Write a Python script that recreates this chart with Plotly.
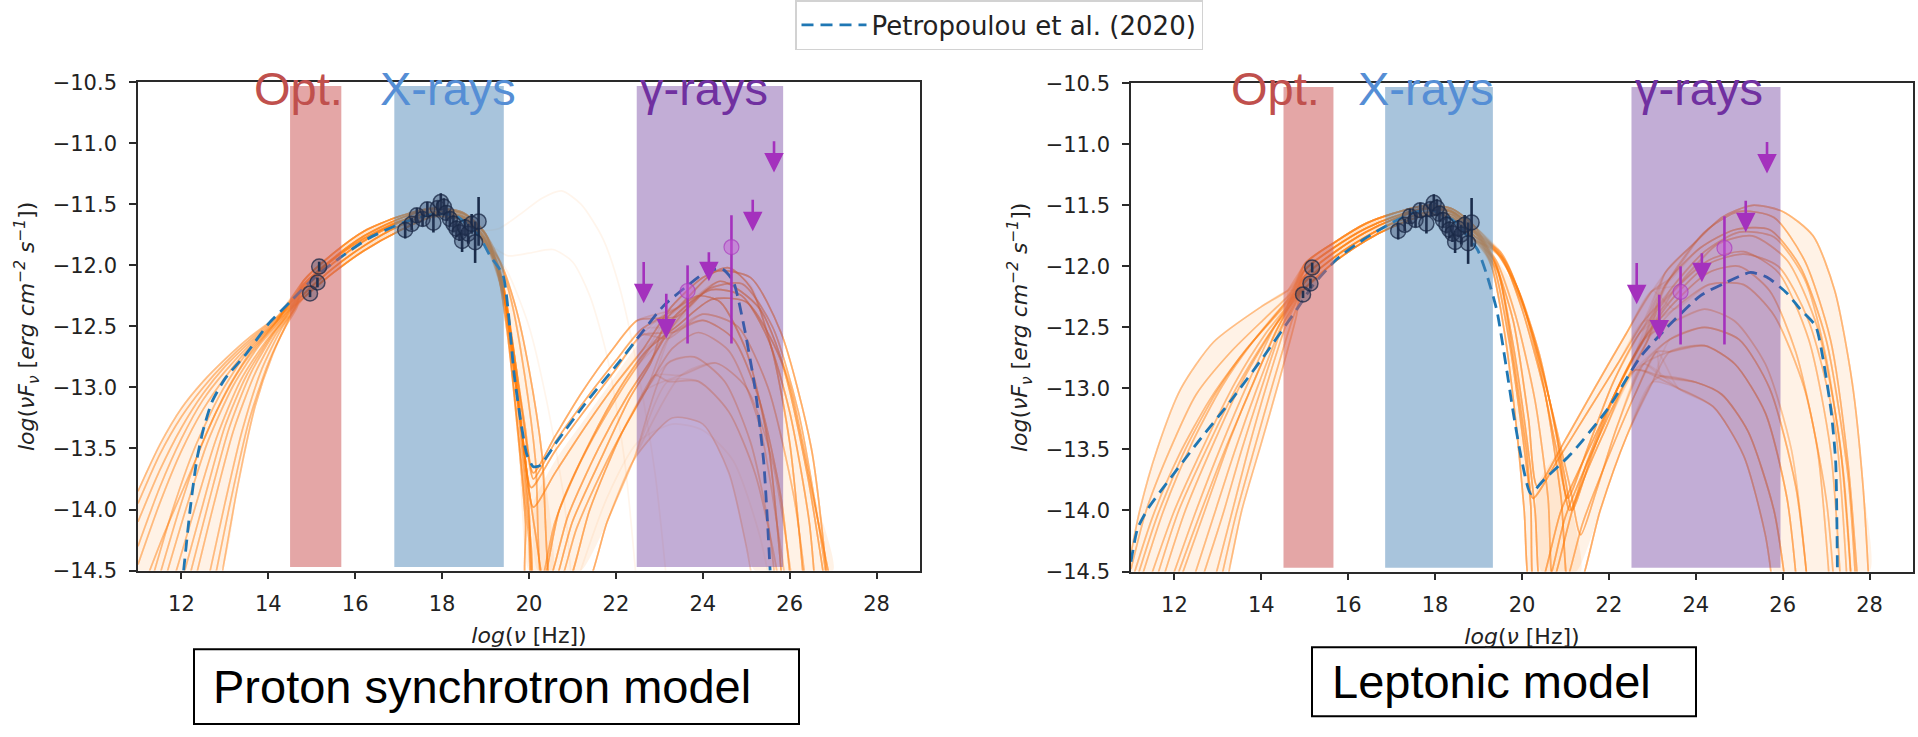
import plotly.graph_objects as go

# ---------------------------------------------------------------- data
x_ticks = [12, 14, 16, 18, 20, 22, 24, 26, 28]
y_ticks = [-14.5, -14.0, -13.5, -13.0, -12.5, -12.0, -11.5, -11.0, -10.5]

band_names = ["Opt.", "X-rays", "γ-rays"]
proton_band_lo = [14.50, 16.90, 22.48]
proton_band_hi = [15.68, 19.42, 25.85]
lepton_band_lo = [14.51, 16.85, 22.52]
lepton_band_hi = [15.66, 19.33, 25.95]
band_y_lo = -14.47
band_y_hi = -10.53

# Petropoulou et al. (2020) model (dashed)
petro_proton_x = [12.05, 12.2, 12.35, 12.5, 12.7, 13.0, 13.5, 14.0, 14.5, 15.0, 15.6, 16.3, 17.1, 17.8,
                  18.3, 18.85, 19.1, 19.4, 19.66, 19.82, 19.95, 20.1, 20.25, 20.65, 21.3, 22.1, 22.6,
                  23.1, 23.6, 24.1, 24.45, 24.7, 24.95, 25.2, 25.4, 25.55]
petro_proton_y = [-14.5, -14.0, -13.6, -13.35, -13.12, -12.93, -12.72, -12.48, -12.3, -12.12, -11.95,
                  -11.78, -11.65, -11.58, -11.59, -11.76, -11.92, -12.08, -12.9, -13.3, -13.55, -13.65,
                  -13.64, -13.44, -13.13, -12.78, -12.55, -12.33, -12.18, -12.05, -12.03, -12.13, -12.5,
                  -13.0, -13.6, -14.5]
petro_lepton_x = [11.0, 11.15, 11.4, 11.77, 12.54, 13.3, 14.07, 14.84, 15.2, 15.74, 16.35, 16.97, 17.51,
                  17.9, 18.4, 18.97, 19.19, 19.42, 19.64, 19.8, 20.0, 20.2, 20.5, 21.12, 21.97, 22.73,
                  23.34, 24.11, 24.65, 25.26, 25.64, 26.1, 26.4, 26.76, 26.95, 27.12, 27.22, 27.26]
petro_lepton_y = [-14.42, -14.15, -13.98, -13.8, -13.44, -13.1, -12.73, -12.34, -12.15, -11.94, -11.78,
                  -11.65, -11.56, -11.54, -11.62, -11.86, -12.07, -12.36, -12.83, -13.2, -13.6, -13.86,
                  -13.75, -13.54, -13.17, -12.74, -12.5, -12.24, -12.14, -12.05, -12.09, -12.22, -12.35,
                  -12.49, -12.8, -13.2, -13.6, -14.5]

# observed data (identical in both panels)
opt_x = [14.96, 15.13, 15.17]
opt_y = [-12.23, -12.14, -12.01]
opt_err = [0.03, 0.04, 0.04]

xray_x = [17.15, 17.30, 17.42, 17.55, 17.66, 17.80, 17.90, 17.97, 18.04, 18.10,
          18.18, 18.26, 18.33, 18.40, 18.46, 18.53, 18.60, 18.68, 18.76, 18.84]
xray_y = [-11.71, -11.66, -11.59, -11.62, -11.54, -11.65, -11.53, -11.48, -11.52, -11.57,
          -11.62, -11.66, -11.70, -11.73, -11.80, -11.69, -11.74, -11.66, -11.81, -11.64]
xray_err = [0.07, 0.05, 0.06, 0.06, 0.06, 0.08, 0.06, 0.07, 0.07, 0.06,
            0.06, 0.07, 0.07, 0.07, 0.09, 0.07, 0.08, 0.08, 0.17, 0.20]

gamma_x = [23.65, 24.66]
gamma_y = [-12.21, -11.85]
gamma_err_plus = [0.21, 0.26]
gamma_err_minus = [0.43, 0.79]

ul_x = [22.64, 23.16, 24.14, 25.15, 25.64]
ul_y = [-11.96, -12.22, -11.88, -11.45, -10.97]
ul_len = [0.35, 0.38, 0.25, 0.27, 0.27]

# ---- spread of the model-curve ensemble (outlines)
proton_lowfan_x = [11.0, 11.5, 12.0, 12.5, 13.0, 13.6, 14.2, 14.5, 14.1, 13.7, 13.3, 12.9, 11.0]
proton_lowfan_y = [-13.85, -13.47, -13.17, -12.95, -12.77, -12.58, -12.42, -12.42, -12.73, -13.15, -13.8, -14.5, -14.5]
proton_humpband_x = [14.2, 14.8, 15.5, 16.2, 17.0, 17.8, 18.5, 19.0, 19.0, 18.5, 17.8, 17.0, 16.2, 15.5, 14.8, 14.2]
proton_humpband_y = [-12.42, -12.13, -11.9, -11.72, -11.6, -11.53, -11.57, -11.74,
                     -11.83, -11.63, -11.6, -11.72, -11.88, -12.06, -12.27, -12.46]
proton_drop_x = [19.2, 19.7, 20.0, 20.3, 20.55, 20.0, 19.75, 19.5, 19.25]
proton_drop_y = [-11.85, -12.35, -12.85, -13.55, -14.5, -14.5, -13.4, -12.55, -12.0]
proton_gcloud_x = [20.1, 20.6, 21.3, 22.0, 22.6, 23.3, 24.0, 24.6, 25.1, 25.6, 26.0, 26.5, 27.0,
                   25.2, 25.0, 24.6, 24.0, 23.3, 22.4, 21.8, 21.2, 20.2]
proton_gcloud_y = [-13.95, -13.6, -13.25, -12.9, -12.6, -12.33, -12.1, -12.02, -12.15, -12.55, -13.0, -13.8, -14.5,
                   -14.5, -14.3, -13.7, -13.3, -13.25, -13.6, -14.1, -14.5, -14.5]
lepton_lowfan_x = [11.0, 11.2, 11.6, 12.15, 12.9, 14.0, 14.6, 14.85, 14.4, 14.0, 13.55, 13.2, 11.0]
lepton_lowfan_y = [-14.35, -14.0, -13.5, -13.0, -12.62, -12.33, -12.2, -12.3, -12.95, -13.45, -14.0, -14.5, -14.5]
lepton_humpband_x = [14.6, 15.0, 15.7, 16.4, 17.0, 17.8, 18.4, 18.9, 18.9, 18.4, 17.8, 17.0, 16.4, 15.7, 15.0, 14.6]
lepton_humpband_y = [-12.2, -11.98, -11.8, -11.65, -11.57, -11.5, -11.53, -11.67,
                     -11.78, -11.6, -11.58, -11.68, -11.79, -11.96, -12.18, -12.32]
lepton_drop_x = [19.2, 19.9, 20.5, 21.0, 21.35, 20.15, 20.05, 19.85, 19.6, 19.3]
lepton_drop_y = [-11.85, -12.2, -12.95, -13.75, -14.5, -14.5, -14.0, -13.25, -12.55, -12.0]
lepton_gcloud_x = [20.35, 21.0, 21.7, 22.4, 23.0, 23.4, 24.2, 25.0, 25.3, 26.0, 26.7, 27.2, 27.6, 27.85, 28.0,
                   25.8, 25.6, 25.1, 24.4, 23.6, 23.0, 22.4, 21.8, 21.25, 20.45]
lepton_gcloud_y = [-13.8, -13.42, -12.98, -12.55, -12.2, -12.0, -11.72, -11.55, -11.5, -11.55, -11.75, -12.2, -12.95,
                   -13.8, -14.5, -14.5, -14.2, -13.55, -13.15, -13.0, -12.95, -13.4, -14.0, -14.5, -14.5]

# ---- fitted model curves (proton synchrotron), read as segments
proton_low = [
    [(11.0, -13.85), (11.5, -13.47), (12.0, -13.17), (12.5, -12.95), (13.0, -12.77), (13.6, -12.58), (14.2, -12.42)],
    [(11.0, -14.1), (11.5, -13.68), (12.0, -13.33), (12.5, -13.05), (13.0, -12.83), (13.6, -12.62), (14.2, -12.44)],
    [(11.0, -14.45), (11.5, -13.95), (12.0, -13.52), (12.5, -13.18), (13.0, -12.92), (13.6, -12.66), (14.2, -12.46)],
    [(11.3, -14.6), (11.8, -14.0), (12.3, -13.5), (12.9, -13.05), (13.5, -12.72), (14.2, -12.46)],
    [(11.6, -14.6), (12.1, -14.0), (12.6, -13.45), (13.2, -12.98), (13.8, -12.65), (14.3, -12.45)],
    [(12.0, -14.6), (12.5, -13.95), (13.0, -13.32), (13.5, -12.9), (14.1, -12.56), (14.5, -12.38)],
    [(12.3, -14.6), (12.75, -13.95), (13.2, -13.35), (13.7, -12.88), (14.2, -12.55), (14.6, -12.36)],
    [(12.6, -14.6), (13.0, -13.95), (13.4, -13.35), (13.85, -12.85), (14.3, -12.52), (14.6, -12.36)],
    [(12.9, -14.6), (13.3, -13.8), (13.7, -13.15), (14.1, -12.73), (14.5, -12.42)],
    [(11.0, -14.75), (11.6, -14.2), (12.2, -13.7), (12.8, -13.2), (13.4, -12.82), (14.1, -12.5)],
    [(11.0, -13.95), (11.5, -13.55), (12.0, -13.24), (12.5, -13.0), (13.0, -12.8), (13.6, -12.6), (14.2, -12.43)],
    [(11.0, -14.3), (11.5, -13.82), (12.0, -13.42), (12.5, -13.1), (13.0, -12.87), (13.6, -12.64), (14.2, -12.45)],
    [(11.45, -14.6), (11.95, -14.0), (12.45, -13.48), (13.05, -13.02), (13.65, -12.68), (14.25, -12.46)],
    [(11.8, -14.6), (12.3, -14.0), (12.8, -13.42), (13.35, -12.95), (13.95, -12.62), (14.4, -12.42)],
    [(12.15, -14.6), (12.62, -13.95), (13.1, -13.33), (13.6, -12.88), (14.15, -12.55), (14.55, -12.37)],
    [(12.75, -14.6), (13.15, -13.9), (13.55, -13.28), (14.0, -12.8), (14.4, -12.5), (14.65, -12.35)],
]
proton_hump = [
    [(14.8, -12.2), (15.5, -11.98), (16.2, -11.8), (17.0, -11.65), (17.8, -11.56), (18.5, -11.6), (19.0, -11.78)],
    [(14.8, -12.16), (15.5, -11.94), (16.2, -11.76), (17.0, -11.62), (17.8, -11.54), (18.5, -11.58), (19.0, -11.75)],
    [(14.8, -12.24), (15.5, -12.02), (16.2, -11.84), (17.0, -11.68), (17.8, -11.58), (18.5, -11.62), (19.0, -11.81)],
    [(14.8, -12.13), (15.5, -11.9), (16.2, -11.72), (17.0, -11.6), (17.8, -11.53), (18.5, -11.57), (19.0, -11.74)],
    [(14.8, -12.27), (15.5, -12.06), (16.2, -11.88), (17.0, -11.72), (17.8, -11.6), (18.5, -11.63), (19.0, -11.83)],
    [(14.8, -12.18), (15.5, -11.95), (16.2, -11.78), (17.0, -11.64), (17.8, -11.57), (18.5, -11.61), (19.0, -11.8)],
]
proton_dip = [
    [(19.35, -12.1), (19.6, -12.7), (19.85, -13.4), (20.05, -13.82), (20.6, -13.52), (21.3, -13.18), (22.0, -12.85), (22.6, -12.57)],
    [(19.4, -12.2), (19.65, -12.85), (19.9, -13.55), (20.1, -13.98), (20.6, -13.7), (21.3, -13.32), (22.0, -12.97), (22.6, -12.7)],
    [(19.3, -12.02), (19.55, -12.5), (19.8, -13.25), (20.0, -14.0), (20.12, -14.7), (20.25, -14.7), (20.7, -14.0),
     (21.4, -13.45), (22.1, -13.0), (22.7, -12.7)],
    [(19.35, -11.98), (19.7, -12.35), (20.0, -12.85), (20.3, -13.55), (20.55, -14.7), (20.8, -14.7), (21.4, -14.0),
     (22.1, -13.4), (22.7, -13.02)],
    [(19.25, -12.0), (19.5, -12.55), (19.75, -13.4), (19.92, -14.1), (20.0, -14.7), (21.2, -14.7), (21.8, -14.1), (22.4, -13.6)],
    [(19.4, -12.15), (19.7, -12.9), (19.95, -13.7), (20.15, -14.2), (20.4, -14.7), (20.5, -14.7), (21.0, -14.1),
     (21.7, -13.55), (22.3, -13.1), (22.8, -12.8)],
    [(19.3, -12.05), (19.6, -12.6), (19.9, -13.3), (20.1, -13.7), (20.6, -13.4), (21.2, -13.05), (21.9, -12.7), (22.5, -12.45)],
    [(19.3, -12.0), (19.55, -12.45), (19.8, -13.1), (20.0, -13.6), (20.1, -13.75), (20.6, -13.45), (21.3, -13.1),
     (22.0, -12.78), (22.6, -12.52)],
    [(19.45, -12.3), (19.7, -13.0), (19.92, -13.8), (20.05, -14.3), (20.15, -14.7), (20.35, -14.7), (20.9, -14.05),
     (21.6, -13.5), (22.3, -13.05), (22.8, -12.78)],
    [(19.3, -11.95), (19.6, -12.3), (19.9, -12.9), (20.15, -13.6), (20.35, -14.7), (20.6, -14.7), (21.1, -14.15),
     (21.8, -13.6), (22.4, -13.2), (22.9, -12.9)],
    [(19.4, -12.25), (19.65, -13.0), (19.85, -13.7), (20.0, -14.25), (20.08, -14.7), (20.2, -14.7), (20.6, -14.1),
     (21.2, -13.6), (21.9, -13.15), (22.5, -12.82)],
]
proton_gamma = [
    [(23.3, -12.33), (24.0, -12.1), (24.6, -12.02), (25.1, -12.18), (25.6, -12.7), (26.0, -13.45), (26.35, -14.7)],
    [(23.2, -12.42), (23.9, -12.25), (24.4, -12.3), (25.0, -12.7), (25.5, -13.45), (25.85, -14.7)],
    [(23.4, -12.5), (24.2, -12.28), (25.0, -12.3), (25.8, -12.78), (26.4, -13.7), (26.85, -14.7)],
    [(23.3, -12.68), (23.9, -12.55), (24.6, -12.7), (25.3, -13.3), (25.7, -14.1), (25.95, -14.7)],
    [(23.4, -12.42), (24.4, -12.13), (25.3, -12.35), (26.0, -12.98), (26.6, -14.0), (27.0, -14.7)],
    [(23.3, -13.25), (24.0, -13.3), (24.6, -13.7), (25.0, -14.3), (25.2, -14.7)],
    [(23.5, -12.9), (24.3, -12.8), (25.0, -13.0), (25.6, -13.6), (26.1, -14.7)],
    [(23.2, -12.6), (24.0, -12.4), (24.8, -12.5), (25.5, -13.0), (26.1, -13.9), (26.4, -14.7)],
    [(23.4, -12.35), (24.3, -12.05), (25.1, -12.1), (25.8, -12.55), (26.5, -13.5), (26.9, -14.7)],
    [(23.2, -12.8), (23.8, -12.75), (24.5, -12.95), (25.1, -13.45), (25.5, -14.1), (25.7, -14.7)],
    [(23.3, -12.5), (24.1, -12.2), (24.9, -12.15), (25.6, -12.5), (26.2, -13.2), (26.7, -14.2), (26.9, -14.7)],
    [(23.3, -12.55), (24.0, -12.45), (24.7, -12.6), (25.3, -13.1), (25.8, -13.9), (26.05, -14.7)],
    [(23.4, -12.4), (24.2, -12.2), (24.9, -12.25), (25.5, -12.6), (26.0, -13.2), (26.45, -14.1), (26.6, -14.7)],
    [(23.2, -12.95), (23.9, -12.95), (24.6, -13.2), (25.2, -13.7), (25.6, -14.3), (25.8, -14.7)],
]
# (low, hump, dip, gamma) segment choice for every drawn proton model curve
proton_recipes = [
    (0, 0, 0, 0), (1, 1, 1, 2), (2, 2, 2, 1), (3, 3, 3, 3), (4, 4, 4, 5), (5, 5, 5, 4), (6, 0, 6, 8), (7, 1, 7, 10),
    (8, 2, 8, 12), (9, 3, 9, 13), (10, 4, 10, 11), (11, 5, 0, 7), (12, 0, 1, 0), (13, 1, 2, 2), (14, 2, 3, 6),
    (15, 3, 4, 9), (0, 4, 5, 1), (1, 5, 6, 4), (2, 0, 7, 8), (3, 1, 8, 10), (4, 2, 9, 3), (5, 3, 10, 12),
    (6, 4, 0, 11), (7, 5, 1, 0), (8, 0, 2, 2), (9, 1, 3, 7), (10, 2, 4, 13), (11, 3, 5, 1), (12, 4, 6, 4),
    (13, 5, 7, 8), (14, 0, 8, 10), (15, 1, 9, 6), (0, 2, 10, 12), (1, 3, 0, 11), (2, 4, 1, 0), (3, 5, 2, 2),
    (4, 0, 3, 9), (5, 1, 4, 5), (6, 2, 5, 1), (7, 3, 6, 4), (8, 4, 7, 8), (9, 5, 8, 10), (10, 0, 9, 11),
    (11, 1, 10, 12), (12, 2, 0, 7), (13, 3, 1, 0), (14, 4, 2, 2), (15, 5, 3, 3), (0, 1, 4, 6), (1, 2, 5, 1),
    (2, 3, 6, 4), (3, 4, 7, 8), (4, 5, 8, 10), (5, 0, 9, 13), (6, 1, 10, 12), (7, 2, 0, 11), (8, 3, 1, 0),
    (9, 4, 2, 2), (10, 5, 3, 7), (11, 0, 4, 9), (12, 1, 5, 4), (13, 2, 6, 8), (14, 3, 7, 1), (15, 4, 8, 12),
]
proton_faint = [
    [(18.8, -11.72), (19.3, -11.7), (19.8, -11.58), (20.3, -11.45), (20.75, -11.39), (21.2, -11.5),
     (21.7, -11.78), (22.1, -12.2), (22.5, -12.85), (22.9, -13.7), (23.2, -14.7)],
    [(19.0, -11.8), (19.5, -11.92), (20.0, -11.9), (20.55, -11.87), (21.0, -11.97), (21.4, -12.25),
     (21.8, -12.75), (22.2, -13.6), (22.5, -14.7)],
    [(19.0, -11.8), (19.5, -12.05), (20.0, -12.5), (20.4, -13.1), (20.8, -13.9), (21.0, -14.7)],
    [(21.0, -14.7), (21.8, -13.9), (22.5, -13.45), (23.3, -13.3), (24.0, -13.35), (24.7, -13.6),
     (25.3, -14.2), (25.6, -14.7)],
]

# ---- fitted model curves (leptonic), read as segments
lepton_low = [
    [(11.0, -14.35), (11.2, -14.0), (11.6, -13.5), (12.15, -13.0), (12.9, -12.62), (14.0, -12.33), (14.6, -12.2)],
    [(11.0, -14.6), (11.5, -14.05), (12.1, -13.55), (12.8, -13.1), (13.5, -12.75), (14.2, -12.45), (14.6, -12.28)],
    [(11.2, -14.6), (11.75, -14.0), (12.4, -13.45), (13.1, -12.98), (13.8, -12.62), (14.5, -12.32)],
    [(11.4, -14.6), (12.0, -14.0), (12.7, -13.45), (13.4, -12.95), (14.1, -12.55), (14.6, -12.32)],
    [(11.7, -14.6), (12.25, -14.0), (12.9, -13.45), (13.55, -12.95), (14.2, -12.55), (14.65, -12.3)],
    [(11.9, -14.6), (12.5, -14.0), (13.1, -13.45), (13.7, -12.95), (14.3, -12.5), (14.7, -12.3)],
    [(12.4, -14.6), (12.9, -14.05), (13.4, -13.5), (13.9, -13.0), (14.45, -12.5), (14.75, -12.3)],
    [(12.9, -14.6), (13.3, -14.05), (13.7, -13.5), (14.1, -13.0), (14.6, -12.45), (14.8, -12.3)],
    [(13.2, -14.6), (13.55, -14.0), (14.0, -13.45), (14.4, -12.95), (14.8, -12.42)],
    [(12.1, -14.6), (12.7, -14.0), (13.3, -13.4), (13.9, -12.88), (14.5, -12.42)],
    [(11.0, -14.48), (11.35, -14.0), (11.9, -13.5), (12.5, -13.05), (13.3, -12.7), (14.1, -12.42), (14.6, -12.25)],
    [(11.55, -14.6), (12.1, -14.0), (12.8, -13.45), (13.45, -12.98), (14.15, -12.57), (14.65, -12.32)],
    [(12.0, -14.6), (12.6, -14.02), (13.2, -13.47), (13.8, -12.97), (14.35, -12.52), (14.7, -12.31)],
    [(12.6, -14.6), (13.1, -14.05), (13.55, -13.5), (14.0, -13.0), (14.5, -12.48), (14.78, -12.3)],
    [(13.05, -14.6), (13.42, -14.03), (13.85, -13.48), (14.25, -12.98), (14.7, -12.45), (14.85, -12.3)],
    [(11.1, -14.6), (11.6, -14.05), (12.25, -13.5), (12.95, -13.04), (13.65, -12.68), (14.35, -12.4), (14.65, -12.28)],
]
lepton_hump = [
    [(15.0, -12.08), (15.7, -11.88), (16.4, -11.72), (17.0, -11.62), (17.8, -11.53), (18.4, -11.56), (18.9, -11.72)],
    [(15.0, -11.98), (15.7, -11.8), (16.4, -11.65), (17.0, -11.57), (17.8, -11.5), (18.4, -11.53), (18.9, -11.67)],
    [(15.0, -12.18), (15.7, -11.96), (16.4, -11.79), (17.0, -11.68), (17.8, -11.58), (18.4, -11.6), (18.9, -11.78)],
    [(15.0, -12.03), (15.7, -11.84), (16.4, -11.69), (17.0, -11.6), (17.8, -11.52), (18.4, -11.55), (18.9, -11.7)],
    [(15.0, -12.13), (15.7, -11.92), (16.4, -11.76), (17.0, -11.65), (17.8, -11.56), (18.4, -11.58), (18.9, -11.75)],
]
lepton_dip = [
    [(19.3, -12.0), (19.6, -12.55), (19.85, -13.25), (20.05, -14.0), (20.2, -14.7), (20.35, -14.7), (20.9, -14.0),
     (21.6, -13.45), (22.2, -13.0), (22.8, -12.6)],
    [(19.4, -11.98), (19.75, -12.55), (20.05, -13.25), (20.3, -14.0), (20.45, -14.7), (20.6, -14.7), (21.2, -13.95),
     (21.9, -13.35), (22.6, -12.85)],
    [(19.4, -11.88), (19.9, -12.18), (20.4, -12.72), (20.8, -13.4), (21.1, -14.0), (21.5, -13.6), (22.0, -13.15), (22.6, -12.72)],
    [(19.35, -11.95), (19.8, -12.45), (20.15, -13.25), (20.35, -13.8), (21.0, -13.42), (21.7, -12.98), (22.4, -12.55), (23.0, -12.2)],
    [(19.5, -11.88), (20.0, -12.28), (20.5, -12.98), (20.9, -13.9), (21.1, -14.7), (21.25, -14.7), (21.8, -14.0),
     (22.4, -13.4), (23.0, -12.95)],
    [(19.45, -12.05), (19.8, -12.75), (20.1, -13.5), (20.25, -13.9), (20.8, -13.6), (21.5, -13.2), (22.2, -12.8), (22.8, -12.45)],
    [(19.6, -11.95), (20.2, -12.5), (20.7, -13.2), (21.0, -13.75), (21.15, -14.0), (21.6, -13.55), (22.2, -13.0), (22.8, -12.6)],
    [(19.35, -12.0), (19.7, -12.6), (20.0, -13.35), (20.2, -13.95), (20.3, -14.7), (20.5, -14.7), (21.0, -14.05),
     (21.7, -13.45), (22.3, -13.0), (22.9, -12.6)],
    [(19.5, -11.9), (20.0, -12.35), (20.5, -13.0), (20.85, -13.6), (21.05, -13.9), (21.5, -13.5), (22.1, -12.95), (22.7, -12.55)],
    [(19.4, -11.95), (19.85, -12.4), (20.3, -13.1), (20.6, -13.9), (20.75, -14.7), (20.9, -14.7), (21.4, -14.1),
     (22.0, -13.55), (22.6, -13.05), (23.1, -12.7)],
    [(19.5, -11.92), (20.1, -12.4), (20.6, -13.05), (21.1, -13.8), (21.35, -14.2), (21.7, -13.85), (22.2, -13.3), (22.8, -12.8)],
]
lepton_gamma = [
    [(23.3, -12.05), (24.0, -11.8), (24.6, -11.6), (25.3, -11.5), (26.0, -11.55), (26.7, -11.75),
     (27.2, -12.2), (27.6, -12.95), (27.85, -13.8), (28.0, -14.7)],
    [(23.4, -12.2), (24.2, -11.88), (25.0, -11.72), (25.8, -11.76), (26.5, -12.1), (27.0, -12.75),
     (27.4, -13.7), (27.6, -14.7)],
    [(23.5, -12.3), (24.3, -12.05), (25.0, -12.0), (25.7, -12.2), (26.3, -12.7), (26.8, -13.5), (27.1, -14.7)],
    [(23.5, -12.45), (24.2, -12.35), (24.9, -12.45), (25.6, -12.8), (26.2, -13.5), (26.6, -14.7)],
    [(23.2, -12.9), (24.0, -12.95), (24.6, -13.05), (25.2, -13.35), (25.8, -14.0), (26.1, -14.7)],
    [(23.6, -12.15), (24.5, -11.82), (25.3, -11.75), (26.1, -11.95), (26.8, -12.5), (27.3, -13.4), (27.6, -14.7)],
    [(23.6, -13.0), (24.4, -13.15), (25.1, -13.55), (25.6, -14.2), (25.8, -14.7)],
    [(23.5, -12.2), (24.3, -11.95), (25.1, -11.88), (25.9, -12.05), (26.6, -12.6), (27.1, -13.5), (27.35, -14.7)],
    [(23.4, -12.6), (24.2, -12.5), (25.0, -12.6), (25.7, -13.0), (26.3, -13.8), (26.6, -14.7)],
    [(23.4, -12.1), (24.2, -11.72), (25.0, -11.55), (25.8, -11.6), (26.5, -11.95), (27.1, -12.6),
     (27.5, -13.6), (27.75, -14.7)],
    [(23.5, -12.35), (24.3, -12.15), (25.1, -12.15), (25.8, -12.4), (26.5, -13.0), (27.0, -13.9), (27.2, -14.7)],
    [(23.5, -12.25), (24.3, -11.98), (25.1, -11.9), (25.9, -12.0), (26.6, -12.45), (27.2, -13.3), (27.5, -14.7)],
    [(23.4, -12.7), (24.2, -12.65), (24.9, -12.8), (25.6, -13.2), (26.1, -13.9), (26.35, -14.7)],
    [(23.3, -12.15), (24.1, -11.85), (24.9, -11.7), (25.7, -11.7), (26.4, -12.0), (27.0, -12.6), (27.5, -13.7), (27.7, -14.7)],
]
lepton_recipes = [
    (0, 0, 0, 0), (1, 1, 1, 4), (2, 2, 2, 2), (3, 3, 3, 9), (4, 4, 4, 6), (5, 0, 5, 1), (6, 1, 6, 7), (7, 2, 7, 13),
    (8, 3, 8, 11), (9, 4, 9, 12), (10, 0, 10, 8), (11, 1, 0, 5), (12, 2, 1, 6), (13, 3, 2, 10), (14, 4, 3, 0),
    (15, 0, 4, 4), (0, 1, 5, 3), (1, 2, 6, 9), (2, 3, 7, 1), (3, 4, 8, 7), (4, 0, 9, 4), (5, 1, 10, 12),
    (6, 2, 0, 13), (7, 3, 1, 8), (8, 4, 2, 11), (9, 0, 3, 5), (10, 1, 4, 12), (11, 2, 5, 0), (12, 3, 6, 2),
    (13, 4, 7, 10), (14, 0, 8, 9), (15, 1, 9, 6), (0, 2, 10, 4), (1, 3, 0, 3), (2, 4, 1, 12), (3, 0, 2, 1),
    (4, 1, 3, 13), (5, 2, 4, 8), (6, 3, 5, 7), (7, 4, 6, 11), (8, 0, 7, 0), (9, 1, 8, 5), (10, 2, 9, 8),
    (11, 3, 10, 6), (12, 4, 0, 2), (13, 0, 1, 4), (14, 1, 2, 9), (15, 2, 3, 10), (0, 3, 4, 4), (1, 4, 5, 13),
    (2, 0, 6, 3), (3, 1, 7, 7), (4, 2, 8, 1), (5, 3, 9, 12), (6, 4, 10, 8), (7, 0, 0, 11), (8, 1, 1, 6),
    (9, 2, 2, 0), (10, 3, 3, 9), (11, 4, 4, 12), (12, 0, 5, 5), (13, 1, 6, 2), (14, 2, 7, 13), (15, 3, 8, 10),
]

# ---------------------------------------------------------------- styles
W, H = 1918, 737
ORANGE = "rgba(255,127,14,0.15)"
ORANGE_FAINT = "rgba(255,127,14,0.08)"
ORANGE_CLOUD = "rgba(255,127,14,0.10)"
ORANGE_BAND = "rgba(255,127,14,0.22)"
BLUE = "#1f77b4"
band_fill = ["rgba(205,92,92,0.55)", "rgba(70,130,180,0.47)", "rgba(102,51,153,0.40)"]
label_color = ["#C0504D", "#558ED5", "#7030A0"]
NAVY_FILL = "rgba(45,60,90,0.34)"
NAVY_LINE = "rgba(25,40,70,0.75)"
PURPLE = "#a431bd"
TICK_FONT = dict(family="DejaVu Sans", size=21, color="#222222")
TITLE_FONT = dict(family="DejaVu Sans", size=22, color="#222222")

fig = go.Figure()


def add_curve(xa, ya, pts, color):
    fig.add_trace(go.Scatter(x=[p[0] for p in pts], y=[p[1] for p in pts], mode="lines",
                             line=dict(color=color, width=1.7, shape="spline", smoothing=0.7),
                             xaxis=xa, yaxis=ya, hoverinfo="skip", showlegend=False))


def add_cloud(xa, ya, xs, ys, color):
    fig.add_trace(go.Scatter(x=xs + xs[:1], y=ys + ys[:1], mode="lines", fill="toself",
                             fillcolor=color, line=dict(width=0, shape="spline", smoothing=0.5),
                             xaxis=xa, yaxis=ya, hoverinfo="skip", showlegend=False))


def add_panel(xa, ya, clouds, low, hump, dip, gamma, recipes, faint, petro_x, petro_y,
              band_lo, band_hi, show_legend):
    for cx, cy, col in clouds:
        add_cloud(xa, ya, cx, cy, col)
    for (a, b, c, d) in recipes:
        add_curve(xa, ya, low[a] + hump[b] + dip[c] + gamma[d], ORANGE)
    for pts in faint:
        add_curve(xa, ya, pts, ORANGE_FAINT)
    fig.add_trace(go.Scatter(x=petro_x, y=petro_y, mode="lines", name="Petropoulou et al. (2020)",
                             line=dict(color=BLUE, width=2.8, dash="12px,7px", shape="spline", smoothing=0.6),
                             xaxis=xa, yaxis=ya, showlegend=show_legend))
    for lo, hi, col in zip(band_lo, band_hi, band_fill):
        fig.add_trace(go.Scatter(x=[lo, hi, hi, lo, lo],
                                 y=[band_y_lo, band_y_lo, band_y_hi, band_y_hi, band_y_lo],
                                 mode="lines", fill="toself", fillcolor=col, line=dict(width=0),
                                 xaxis=xa, yaxis=ya, hoverinfo="skip", showlegend=False))
    for xs, ys, es in ((opt_x, opt_y, opt_err), (xray_x, xray_y, xray_err)):
        fig.add_trace(go.Scatter(x=xs, y=ys, mode="markers",
                                 error_y=dict(type="data", array=es, color="#1b2d4b", thickness=2.6, width=0),
                                 marker=dict(size=15, color=NAVY_FILL, line=dict(color=NAVY_LINE, width=1.5)),
                                 xaxis=xa, yaxis=ya, showlegend=False))
    fig.add_trace(go.Scatter(x=gamma_x, y=gamma_y, mode="markers",
                             error_y=dict(type="data", symmetric=False, array=gamma_err_plus,
                                          arrayminus=gamma_err_minus, color=PURPLE, thickness=2.6, width=0),
                             marker=dict(size=15, color="rgba(200,90,215,0.45)",
                                         line=dict(color="rgba(170,60,190,0.7)", width=1.2)),
                             xaxis=xa, yaxis=ya, showlegend=False))
    for ux, uy, ul in zip(ul_x, ul_y, ul_len):
        fig.add_annotation(x=ux, y=uy - ul, ax=ux, ay=uy, xref=xa, yref=ya, axref=xa, ayref=ya,
                           text="", showarrow=True, arrowhead=2, arrowsize=1.5, arrowwidth=2.6,
                           arrowcolor=PURPLE, standoff=0)


add_panel("x", "y",
          [(proton_lowfan_x, proton_lowfan_y, ORANGE_CLOUD), (proton_humpband_x, proton_humpband_y, ORANGE_BAND),
           (proton_drop_x, proton_drop_y, ORANGE_CLOUD), (proton_gcloud_x, proton_gcloud_y, ORANGE_CLOUD)],
          proton_low, proton_hump, proton_dip, proton_gamma, proton_recipes,
          proton_faint, petro_proton_x, petro_proton_y, proton_band_lo, proton_band_hi, True)
add_panel("x2", "y2",
          [(lepton_lowfan_x, lepton_lowfan_y, ORANGE_CLOUD), (lepton_humpband_x, lepton_humpband_y, ORANGE_BAND),
           (lepton_drop_x, lepton_drop_y, ORANGE_CLOUD), (lepton_gcloud_x, lepton_gcloud_y, ORANGE_CLOUD)],
          lepton_low, lepton_hump, lepton_dip, lepton_gamma, lepton_recipes,
          [], petro_lepton_x, petro_lepton_y, lepton_band_lo, lepton_band_hi, False)

# ---------------------------------------------------------------- layout
def px_x(v):
    return v / W


def px_y(v):
    return 1 - v / H


axis_common = dict(showline=True, mirror=True, linecolor="#2a2a2a", linewidth=1.6,
                   ticks="outside", ticklen=7, tickwidth=1.5, tickcolor="#2a2a2a",
                   showgrid=False, zeroline=False, tickfont=TICK_FONT)
x_title = "<i>log</i>(<i>ν</i> [Hz])"
y_title = "<i>log</i>(<i>νF<sub>ν</sub></i> [<i>erg cm<sup>−2</sup> s<sup>−1</sup></i>])"

fig.update_layout(
    width=W, height=H, margin=dict(l=0, r=0, t=0, b=0),
    paper_bgcolor="white", plot_bgcolor="white",
    xaxis=dict(domain=[px_x(138), px_x(920)], range=[11, 29], tickvals=x_ticks, anchor="y",
               title=dict(text=x_title, font=TITLE_FONT, standoff=13), ticklabelstandoff=6, **axis_common),
    yaxis=dict(domain=[px_y(576), px_y(67)], range=[-14.5, -10.5], tickvals=y_ticks, tickformat=".1f",
               anchor="x", title=dict(text=y_title, font=TITLE_FONT, standoff=12), ticklabelstandoff=8,
               **axis_common),
    xaxis2=dict(domain=[px_x(1131), px_x(1913)], range=[11, 29], tickvals=x_ticks, anchor="y2",
                title=dict(text=x_title, font=TITLE_FONT, standoff=13), ticklabelstandoff=6, **axis_common),
    yaxis2=dict(domain=[px_y(577), px_y(68)], range=[-14.5, -10.5], tickvals=y_ticks, tickformat=".1f",
                anchor="x2", title=dict(text=y_title, font=TITLE_FONT, standoff=12), ticklabelstandoff=8,
                **axis_common),
    legend=dict(x=px_x(795), y=1 + 19 / H, xanchor="left", yanchor="top", bgcolor="white",
                bordercolor="#d2d2d2", borderwidth=1.5, itemwidth=65,
                font=dict(family="DejaVu Sans", size=26, color="#222222")),
    showlegend=True,
)

# region labels (slide overlays)
label_pos_left = [298.5, 448, 704]
label_pos_right = [1275, 1425.5, 1699]
for name, col, xl, xr in zip(band_names, label_color, label_pos_left, label_pos_right):
    for xp, yp in ((xl, 74), (xr, 73)):
        fig.add_annotation(x=px_x(xp), y=px_y(yp), xref="paper", yref="paper", text=name,
                           showarrow=False, xanchor="center", yanchor="middle",
                           font=dict(family="Liberation Sans, Arial", size=47, color=col))

# model boxes
fig.add_shape(type="rect", xref="paper", yref="paper", x0=px_x(194), x1=px_x(799), y0=px_y(736), y1=px_y(658),
              line=dict(color="black", width=2))
fig.add_shape(type="rect", xref="paper", yref="paper", x0=px_x(1312), x1=px_x(1696), y0=px_y(728), y1=px_y(656),
              line=dict(color="black", width=2))
fig.add_annotation(x=px_x(211), y=px_y(697), xref="paper", yref="paper", text="Proton synchrotron model",
                   showarrow=False, xanchor="left", yanchor="middle",
                   font=dict(family="Liberation Sans, Arial", size=47, color="black"))
fig.add_annotation(x=px_x(1330), y=px_y(692), xref="paper", yref="paper", text="Leptonic model",
                   showarrow=False, xanchor="left", yanchor="middle",
                   font=dict(family="Liberation Sans, Arial", size=47, color="black"))

fig.write_html("out.html")
